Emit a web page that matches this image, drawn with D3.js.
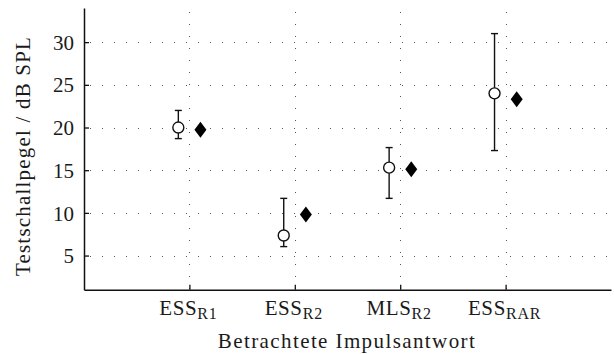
<!DOCTYPE html>
<html>
<head>
<meta charset="utf-8">
<script src="https://cdn.jsdelivr.net/npm/d3@7"></script>
<style>
  body { margin: 0; background: #fff; }
  svg text { font-family: "Liberation Serif", "DejaVu Serif", serif; fill: #1a1a1a; }
</style>
</head>
<body>
<svg id="chart" width="614" height="354"></svg>
<script>
// categories (main text + subscript)
var categories = ["ESS", "ESS", "MLS", "ESS"];
var subscripts = ["R1", "R2", "R2", "RAR"];

// measured level (circle) with error range, and predicted level (diamond)
var measured = [20.0, 7.35, 15.3, 24.0];
var errLow = [18.7, 6.05, 11.7, 17.3];
var errHigh = [22.0, 11.7, 17.65, 31.0];
var predicted = [19.75, 9.8, 15.1, 23.3];

var yTicks = [5, 10, 15, 20, 25, 30];

var svg = d3.select("#chart");

var x = d3.scaleLinear().domain([0, 5]).range([84, 611]);
var y = d3.scaleLinear().domain([1, 34]).range([289.7, 8]);

var offset = 0.105;

// grid
var grid = svg.append("g").attr("stroke", "#555").attr("stroke-width", 1)
	.attr("stroke-dasharray", "1,11");
grid.selectAll("line.h").data(yTicks).enter().append("line")
	.attr("class", "h")
	.attr("x1", x(0) + 6).attr("x2", x(5))
	.attr("y1", function(d) {return Math.round(y(d)) + 0.5})
	.attr("y2", function(d) {return Math.round(y(d)) + 0.5});
grid.selectAll("line.v").data(d3.range(1, 5)).enter().append("line")
	.attr("class", "v")
	.attr("x1", function(d) {return Math.round(x(d)) + 0.5})
	.attr("x2", function(d) {return Math.round(x(d)) + 0.5})
	.attr("y1", y(34) + 4).attr("y2", y(1));

// axes
var yAxis = d3.axisLeft(y).tickValues(yTicks).tickSize(-5).tickSizeOuter(0).tickPadding(10);
var gy = svg.append("g").attr("transform", "translate(" + x(0) + ",0)").call(yAxis);
gy.selectAll("text").style("font-size", "21px").attr("dy", "0.34em");

var xAxis = d3.axisBottom(x).tickValues([1, 2, 3, 4]).tickSize(-5).tickSizeOuter(0).tickFormat("");
var gx = svg.append("g").attr("transform", "translate(0," + y(1) + ")").call(xAxis);

svg.selectAll(".domain").attr("stroke", "#111").attr("stroke-width", 1.5);
svg.selectAll(".tick line").attr("stroke", "#111").attr("stroke-width", 1.3);

// category labels with subscripts
var labels = svg.append("g").selectAll("text").data(categories).enter().append("text")
	.attr("x", function(d, i) {return x(i + 1) - 1})
	.attr("y", y(1) + 25)
	.attr("text-anchor", "middle")
	.style("font-size", "21px")
	.style("letter-spacing", "0.6px");
labels.append("tspan").text(function(d) {return d});
labels.append("tspan")
	.attr("dy", 4.5)
	.style("font-size", "16px")
	.style("letter-spacing", "0.8px")
	.text(function(d, i) {return subscripts[i]});

// axis titles
svg.append("text")
	.attr("x", 347).attr("y", 348)
	.attr("text-anchor", "middle")
	.style("font-size", "21px")
	.style("letter-spacing", "1.4px")
	.text("Betrachtete Impulsantwort");

svg.append("text")
	.attr("transform", "translate(30,156) rotate(-90)")
	.attr("text-anchor", "middle")
	.style("font-size", "21px")
	.style("letter-spacing", "1.2px")
	.text("Testschallpegel / dB SPL");

// error bars
var idx = d3.range(categories.length);
var bars = svg.append("g").attr("stroke", "#111").attr("stroke-width", 1.4);
bars.selectAll("line.bar").data(idx).enter().append("line")
	.attr("x1", function(i) {return x(i + 1 - offset)})
	.attr("x2", function(i) {return x(i + 1 - offset)})
	.attr("y1", function(i) {return y(errLow[i])})
	.attr("y2", function(i) {return y(errHigh[i])});
[errLow, errHigh].forEach(function(arr) {
	bars.selectAll(null).data(idx).enter().append("line")
		.attr("x1", function(i) {return x(i + 1 - offset) - 3.5})
		.attr("x2", function(i) {return x(i + 1 - offset) + 3.5})
		.attr("y1", function(i) {return y(arr[i])})
		.attr("y2", function(i) {return y(arr[i])});
});

// measured circles
svg.append("g").selectAll("circle").data(measured).enter().append("circle")
	.attr("cx", function(d, i) {return x(i + 1 - offset)})
	.attr("cy", function(d) {return y(d)})
	.attr("r", 5.5)
	.attr("fill", "#fff")
	.attr("stroke", "#111")
	.attr("stroke-width", 1.4);

// predicted diamonds
svg.append("g").selectAll("path").data(predicted).enter().append("path")
	.attr("d", "M0,-8L6,0L0,8L-6,0Z")
	.attr("transform", function(d, i) {return "translate(" + x(i + 1 + offset) + "," + y(d) + ")"})
	.attr("fill", "#000");
</script>
</body>
</html>
